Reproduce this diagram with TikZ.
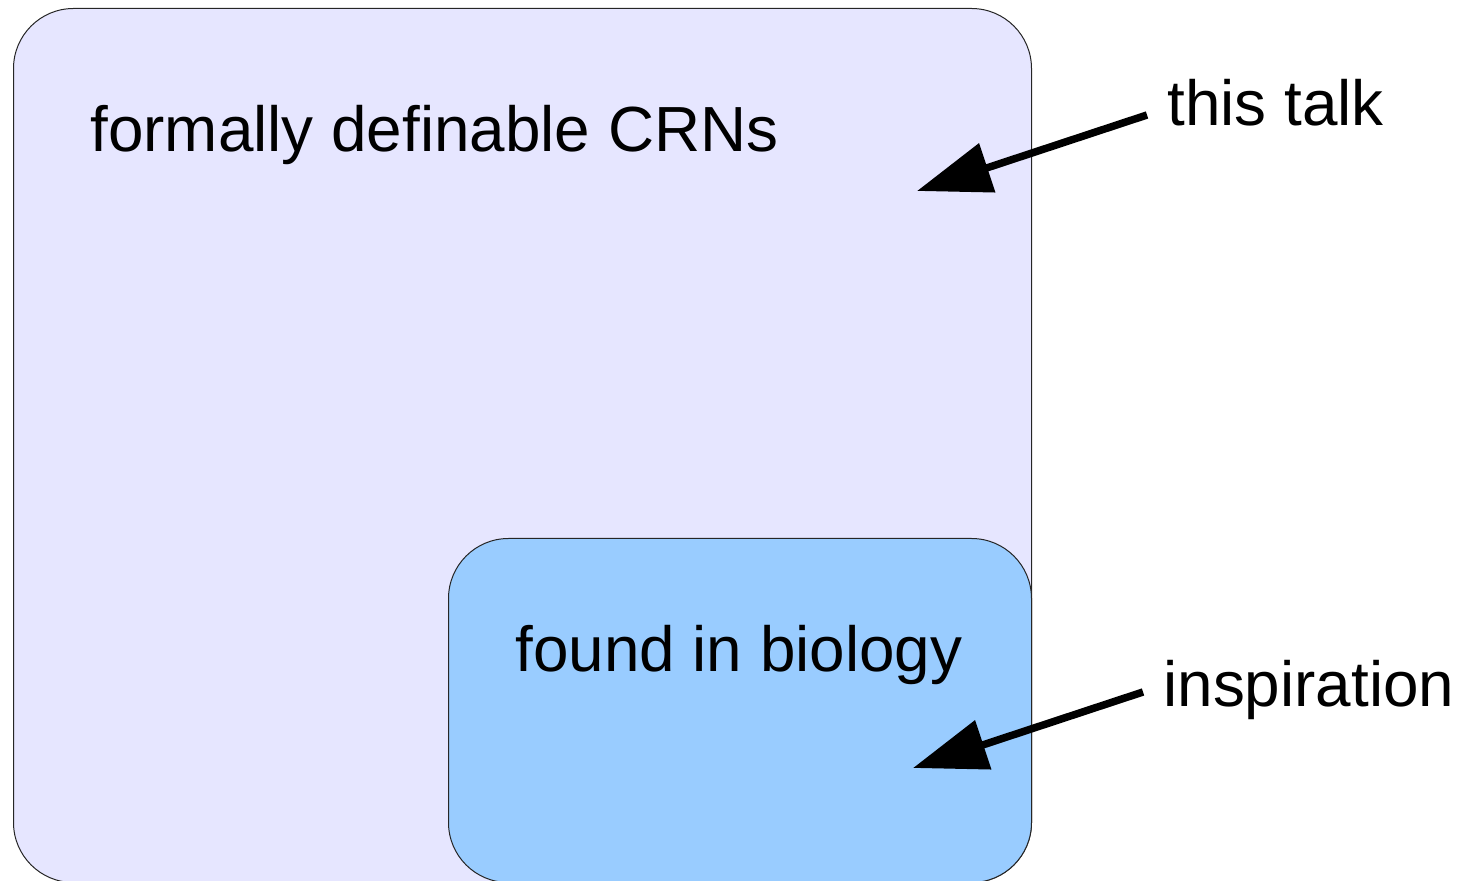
\documentclass[tikz,border=0pt]{standalone}
\usepackage{fontspec}
\setmainfont{Liberation Sans}
\usetikzlibrary{arrows.meta}
\definecolor{setlav}{HTML}{E6E6FF}
\definecolor{setblue}{HTML}{99CCFF}
\tikzset{
  setbox/.style={draw=black!85, line width=0.5pt, rounded corners=30pt,
    anchor=north west, inner sep=0pt},
  label/.style={anchor=base west, inner sep=0pt,
    font=\fontsize{31.9pt}{38pt}\selectfont},
  pointer/.style={line width=3.75pt,
    -{Triangle[length=37pt,width=25pt]}},
}
\begin{document}
\begin{tikzpicture}[x=0.5pt,y=-0.5pt]
\useasboundingbox (0,0) rectangle (1473,881);
\clip (0,0) rectangle (1473,881);
% nested sets
\node (crn) [setbox, fill=setlav, minimum width=509pt, minimum height=437pt] at (13,8) {};
\node (bio) [setbox, fill=setblue, minimum width=291.5pt, minimum height=172pt] at (448,538) {};
% set names
\node (crnname) [label] at (90,152) {formally definable CRNs};
\node (bioname) [label] at (515,672) {found in biology};
% side notes
\node (talk) [label] at (1167,126) {this talk};
\node (insp) [label] at (1163,707) {inspiration};
\coordinate (talktip) at (917,191);
\coordinate (insptip) at (913,768);
\draw[pointer] ([xshift=-10pt,yshift=5.5pt]talk.base west) -- (talktip);
\draw[pointer] ([xshift=-10pt,yshift=7.5pt]insp.base west) -- (insptip);
\end{tikzpicture}
\end{document}
